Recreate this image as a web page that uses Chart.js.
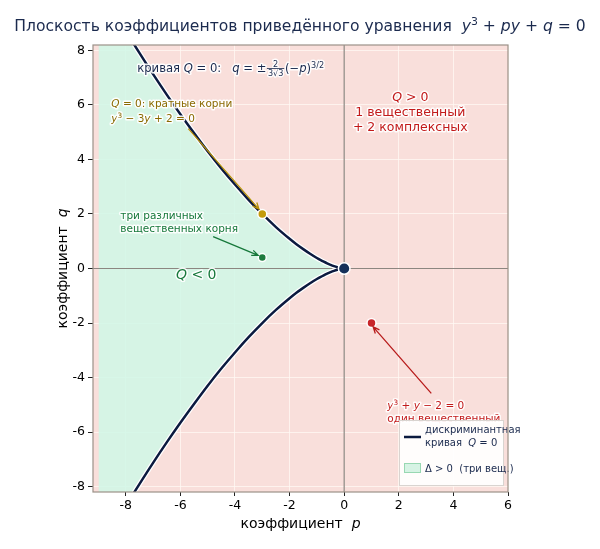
<!DOCTYPE html>
<html>
<head>
<meta charset="utf-8">
<script src="https://cdn.jsdelivr.net/npm/chart.js@4.4.0/dist/chart.umd.min.js"></script>
<style>
html, body { margin: 0; padding: 0; background: #fff; }
#wrap { width: 600px; height: 549px; }
</style>
</head>
<body>
<div id="wrap"><canvas id="plane"></canvas></div>
<script>
// точки дискриминантной кривой (p, q) - верхняя и нижняя ветви
const curveP = [-9, -8.5, -8, -7.5, -7, -6.5, -6, -5.5, -5, -4.5, -4, -3.5, -3, -2.5, -2, -1.75, -1.5, -1.25, -1, -0.875, -0.75, -0.625, -0.5, -0.375, -0.25, -0.15, -0.07, 0]
const upperQ = [10.39, 9.54, 8.71, 7.91, 7.13, 6.38, 5.66, 4.97, 4.30, 3.67, 3.08, 2.52, 2.00, 1.52, 1.09, 0.89, 0.71, 0.54, 0.385, 0.315, 0.25, 0.19, 0.136, 0.088, 0.048, 0.022, 0.007, 0]
const lowerQ = [-10.39, -9.54, -8.71, -7.91, -7.13, -6.38, -5.66, -4.97, -4.30, -3.67, -3.08, -2.52, -2.00, -1.52, -1.09, -0.89, -0.71, -0.54, -0.385, -0.315, -0.25, -0.19, -0.136, -0.088, -0.048, -0.022, -0.007, 0]

// отмеченные точки: кратные корни, три корня, начало, один корень
const markP = [-3, -3, 0, 1]
const markQ = [2, 0.4, 0, -2]

const xTicks = [-8, -6, -4, -2, 0, 2, 4, 6]
const yTicks = [-8, -6, -4, -2, 0, 2, 4, 6, 8]
const pRange = [-9.2, 6]
const qRange = [-8.2, 8.2]

const NAVY = '#0b1a3f'
const PINK = '#f9dfdb'
const GREEN_FILL = 'rgba(208,247,230,0.86)'
const FONT = '"DejaVu Sans"'

const pts = (xs, ys) => xs.map((x, i) => ({ x: x, y: ys[i] }))

//---- helpers for mixed math text
function runFont(style, size) {
    const s = (style === 'sup' || style === 'frac') ? size * 0.7 : size
    return (style === 'i' ? 'italic ' : '') + s + 'px ' + FONT
}

function runsWidth(ctx, runs, size) {
    let w = 0
    runs.forEach(([t, st]) => {
        ctx.font = runFont(st, size)
        if (st === 'frac') {
            w += Math.max(...t.split('|').map(s => ctx.measureText(s).width)) + 3
        } else {
            w += ctx.measureText(t).width
        }
    })
    return w
}

function drawRuns(ctx, runs, x, y, size, color, align, halo) {
    const w = runsWidth(ctx, runs, size)
    let cx = align === 'center' ? x - w / 2 : (align === 'right' ? x - w : x)
    ctx.save()
    ctx.textAlign = 'left'
    ctx.textBaseline = 'alphabetic'
    ctx.lineJoin = 'round'
    ctx.lineWidth = 3
    ctx.strokeStyle = 'rgba(255,255,255,0.9)'
    ctx.fillStyle = color
    runs.forEach(([t, st]) => {
        ctx.font = runFont(st, size)
        if (st === 'frac') {
            const [num, den] = t.split('|')
            const fw = Math.max(ctx.measureText(num).width, ctx.measureText(den).width) + 3
            const mid = y - size * 0.32
            const put = (s, yy) => {
                const sx = cx + (fw - ctx.measureText(s).width) / 2
                if (halo) ctx.strokeText(s, sx, yy)
                ctx.fillText(s, sx, yy)
            }
            put(num, mid - 2)
            put(den, mid + size * 0.62)
            ctx.fillRect(cx + 0.5, mid - 0.5, fw - 1, 0.8)
            cx += fw
            return
        }
        const dy = st === 'sup' ? -size * 0.4 : 0
        if (halo) ctx.strokeText(t, cx, y + dy)
        ctx.fillText(t, cx, y + dy)
        cx += ctx.measureText(t).width
    })
    ctx.restore()
}

function arrow(ctx, x1, y1, x2, y2, color) {
    const a = Math.atan2(y2 - y1, x2 - x1)
    const h = 7
    ctx.save()
    ctx.strokeStyle = color
    ctx.lineWidth = 1.3
    ctx.beginPath()
    ctx.moveTo(x1, y1)
    ctx.lineTo(x2, y2)
    ctx.moveTo(x2 - h * Math.cos(a - 0.4), y2 - h * Math.sin(a - 0.4))
    ctx.lineTo(x2, y2)
    ctx.lineTo(x2 - h * Math.cos(a + 0.4), y2 - h * Math.sin(a + 0.4))
    ctx.stroke()
    ctx.restore()
}

//---- background of the plane (region Q > 0)
const backPlugin = {
    id: 'back',
    beforeDraw(chart) {
        const { ctx, chartArea: a } = chart
        ctx.save()
        ctx.fillStyle = PINK
        ctx.fillRect(a.left, a.top, a.right - a.left, a.bottom - a.top)
        ctx.restore()
    }
}

//---- texts, arrows, legend
const notesPlugin = {
    id: 'notes',
    afterDatasetsDraw(chart) {
        const { ctx, chartArea: a } = chart
        const X = chart.scales.x, Y = chart.scales.y
        const px = v => X.getPixelForValue(v), py = v => Y.getPixelForValue(v)

        arrow(ctx, px(-5.71), py(5.13), px(-3.12), py(2.18), '#b8900a')
        arrow(ctx, px(-4.8), py(1.17), px(-3.15), py(0.48), '#16783a')
        arrow(ctx, px(3.19), py(-4.58), px(1.06), py(-2.14), '#b81c1c')

        drawRuns(ctx, [['кривая ', 'n'], ['Q', 'i'], [' = 0:   ', 'n'], ['q', 'i'], [' = ±', 'n'], ['2|3√3', 'frac'], ['(−', 'n'], ['p', 'i'], [')', 'n'], ['3/2', 'sup']],
            px(-7.58), py(7.2), 11.6, '#1b2a4e', 'left', true)

        drawRuns(ctx, [['Q', 'i'], [' = 0: кратные корни', 'n']], px(-8.53), py(5.93), 10.5, '#8a6a00', 'left', true)
        drawRuns(ctx, [['y', 'i'], ['3', 'sup'], [' − 3', 'n'], ['y', 'i'], [' + 2 = 0', 'n']], px(-8.53), py(5.38), 10.5, '#8a6a00', 'left', true)

        drawRuns(ctx, [['три различных', 'n']], px(-8.2), py(1.8), 10.5, '#16783a', 'left', true)
        drawRuns(ctx, [['вещественных корня', 'n']], px(-8.2), py(1.33), 10.5, '#16783a', 'left', true)

        drawRuns(ctx, [['Q', 'i'], [' < 0', 'n']], px(-5.42), py(-0.37), 14, '#16783a', 'center', true)

        drawRuns(ctx, [['Q', 'i'], [' > 0', 'n']], px(2.42), py(6.15), 12.5, '#c21a1a', 'center', true)
        drawRuns(ctx, [['1 вещественный', 'n']], px(2.42), py(5.6), 12.5, '#c21a1a', 'center', true)
        drawRuns(ctx, [['+ 2 комплексных', 'n']], px(2.42), py(5.05), 12.5, '#c21a1a', 'center', true)

        drawRuns(ctx, [['y', 'i'], ['3', 'sup'], [' + ', 'n'], ['y', 'i'], [' − 2 = 0', 'n']], px(1.58), py(-5.16), 10.5, '#c21a1a', 'left', true)
        drawRuns(ctx, [['один вещественный', 'n']], px(1.58), py(-5.64), 10.5, '#c21a1a', 'left', true)

        // legend box
        const lx = a.right - 109, ly = a.bottom - 72
        ctx.save()
        ctx.fillStyle = 'rgba(255,255,255,0.92)'
        ctx.strokeStyle = '#d9d4d0'
        ctx.lineWidth = 1
        ctx.fillRect(lx, ly, 104, 65)
        ctx.strokeRect(lx + 0.5, ly + 0.5, 104, 65)
        ctx.strokeStyle = NAVY
        ctx.lineWidth = 2.5
        ctx.beginPath()
        ctx.moveTo(lx + 5, ly + 17)
        ctx.lineTo(lx + 22, ly + 17)
        ctx.stroke()
        ctx.fillStyle = '#d6f3e4'
        ctx.fillRect(lx + 5, ly + 43, 17, 10)
        ctx.strokeStyle = '#98d8b2'
        ctx.lineWidth = 1
        ctx.strokeRect(lx + 5.5, ly + 43.5, 16, 9)
        ctx.restore()
        drawRuns(ctx, [['дискриминантная', 'n']], lx + 26, ly + 13, 10, '#1b2a4e', 'left', false)
        drawRuns(ctx, [['кривая  ', 'n'], ['Q', 'i'], [' = 0', 'n']], lx + 26, ly + 26, 10, '#1b2a4e', 'left', false)
        drawRuns(ctx, [['Δ > 0  (три вещ.)', 'n']], lx + 26, ly + 52, 10, '#1b2a4e', 'left', false)
    },
    afterDraw(chart) {
        const { ctx, chartArea: a } = chart
        ctx.save()
        ctx.strokeStyle = '#9b9188'
        ctx.lineWidth = 1.2
        ctx.strokeRect(a.left, a.top, a.right - a.left, a.bottom - a.top)
        ctx.restore()

        drawRuns(ctx, [['Плоскость коэффициентов приведённого уравнения  ', 'n'], ['y', 'i'], ['3', 'sup'], [' + ', 'n'], ['py', 'i'], [' + ', 'n'], ['q', 'i'], [' = 0', 'n']],
            300, 31, 15.6, '#1b2a4e', 'center', false)

        drawRuns(ctx, [['коэффициент  ', 'n'], ['p', 'i']], (a.left + a.right) / 2, 528, 14, '#000', 'center', false)

        ctx.save()
        ctx.translate(67, (a.top + a.bottom) / 2)
        ctx.rotate(-Math.PI / 2)
        drawRuns(ctx, [['коэффициент  ', 'n'], ['q', 'i']], 0, 0, 14, '#000', 'center', false)
        ctx.restore()
    }
}

const planeNode = document.getElementById('plane')

const config = {
    type: 'scatter',
    data: {
        datasets: [
            {   // отмеченные точки
                data: pts(markP, markQ),
                backgroundColor: ['#c49b0c', '#1f7a3e', '#15305a', '#c8262a'],
                borderColor: '#ffffff',
                borderWidth: [1.5, 1.5, 1.5, 1.5],
                pointRadius: [4.5, 4, 5.8, 4.5],
                order: 0
            },
            {   // верхняя ветвь
                data: pts(curveP, upperQ),
                showLine: true, borderColor: NAVY, borderWidth: 2.5, pointRadius: 0,
                cubicInterpolationMode: 'monotone', clip: 0, order: 1
            },
            {   // нижняя ветвь
                data: pts(curveP, lowerQ),
                showLine: true, borderColor: NAVY, borderWidth: 2.5, pointRadius: 0,
                cubicInterpolationMode: 'monotone', clip: 0, order: 1
            },
            {
                data: pts(curveP, upperQ),
                showLine: true, borderColor: '#ffffff', borderWidth: 5, pointRadius: 0,
                cubicInterpolationMode: 'monotone', clip: 0, order: 2
            },
            {
                data: pts(curveP, lowerQ),
                showLine: true, borderColor: '#ffffff', borderWidth: 5, pointRadius: 0,
                cubicInterpolationMode: 'monotone', clip: 0, order: 2
            },
            {   // оси q = 0 и p = 0
                data: [{ x: pRange[0], y: 0 }, { x: pRange[1], y: 0 }],
                showLine: true, borderColor: '#8c8680', borderWidth: 1.2, pointRadius: 0, order: 3
            },
            {
                data: [{ x: 0, y: qRange[0] }, { x: 0, y: qRange[1] }],
                showLine: true, borderColor: '#8c8680', borderWidth: 1.2, pointRadius: 0, order: 3
            },
            {   // область трёх вещественных корней
                data: pts(curveP, upperQ),
                showLine: true, borderWidth: 0, borderColor: 'rgba(0,0,0,0)', pointRadius: 0,
                cubicInterpolationMode: 'monotone',
                fill: { target: 8 }, backgroundColor: GREEN_FILL, order: 4
            },
            {
                data: pts(curveP, lowerQ),
                showLine: true, borderWidth: 0, borderColor: 'rgba(0,0,0,0)', pointRadius: 0,
                cubicInterpolationMode: 'monotone', fill: false, order: 5
            }
        ]
    },
    options: {
        responsive: true,
        maintainAspectRatio: false,
        animation: false,
        events: [],
        layout: { padding: { top: 45, right: 92, left: 0, bottom: 0 } },
        plugins: {
            legend: { display: false },
            tooltip: { enabled: false },
            title: { display: false }
        },
        scales: {
            x: {
                type: 'linear',
                min: pRange[0],
                max: pRange[1],
                afterBuildTicks: s => { s.ticks = xTicks.map(v => ({ value: v })) },
                afterFit: s => { s.height = 57 },
                grid: { color: 'rgba(255,250,244,0.75)', lineWidth: 1, tickLength: 4, tickColor: '#222' },
                border: { display: false },
                ticks: { color: '#000', font: { family: 'DejaVu Sans', size: 12.5 }, padding: 2, maxRotation: 0, autoSkip: false }
            },
            y: {
                type: 'linear',
                min: qRange[0],
                max: qRange[1],
                afterBuildTicks: s => { s.ticks = yTicks.map(v => ({ value: v })) },
                afterFit: s => { s.width = 93 },
                grid: { color: 'rgba(255,250,244,0.75)', lineWidth: 1, tickLength: 5, tickColor: '#222' },
                border: { display: false },
                ticks: { color: '#000', font: { family: 'DejaVu Sans', size: 12.5 }, padding: 3, autoSkip: false }
            }
        }
    },
    plugins: [backPlugin, notesPlugin]
}

const graph = new Chart(planeNode, config)
</script>
</body>
</html>
